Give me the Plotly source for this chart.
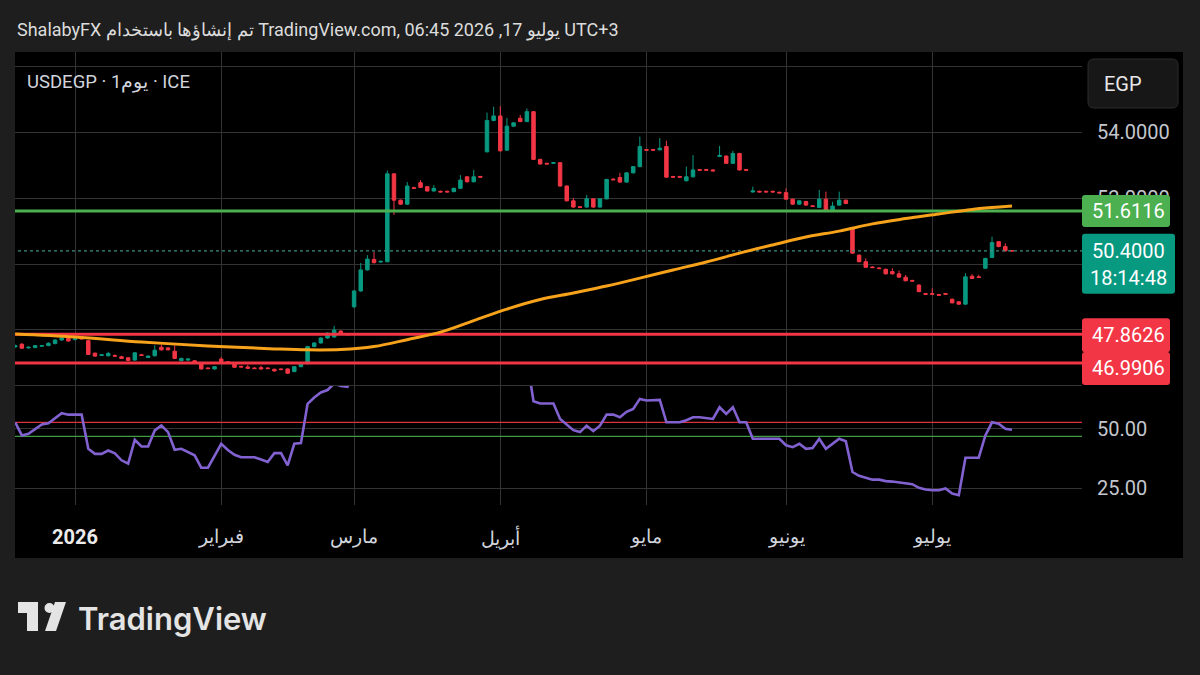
import plotly.graph_objects as go
import pandas as pd

W, H = 1200, 675

# ---------------- data ----------------
dates = [d.strftime("%Y-%m-%d") for d in pd.bdate_range("2025-12-19", "2026-07-17")]

opens = [47.48, 47.56, 47.45, 47.46, 47.50, 47.52, 47.58, 47.69, 47.74,
         47.70, 47.76, 47.67, 47.29, 47.22, 47.21, 47.22, 47.18, 47.15, 47.08,
         47.24, 47.16, 47.21, 47.47, 47.45, 47.35, 47.06, 47.08, 47.06, 46.98,
         46.84, 46.81, 47.11, 47.03, 46.98, 46.89, 46.87, 46.84, 46.85, 46.84,
         46.80, 46.81, 46.81, 46.73, 46.88, 46.97, 47.49, 47.60, 47.75, 47.78,
         47.96, 47.87, 48.70, 49.18, 49.82, 50.14, 50.06, 50.07, 52.74, 51.94,
         51.82, 52.32, 52.47, 52.35, 52.22, 52.21, 52.21, 52.20, 52.30, 52.65,
         52.50, 52.66, 53.41, 54.36, 54.50, 53.46, 54.19, 54.43, 54.33, 54.63,
         53.18, 53.06, 53.06, 53.08, 52.37, 51.92, 51.74, 51.73, 51.98, 51.73,
         51.98, 52.58, 52.63, 52.49, 52.77, 52.96, 53.48, 53.48, 53.47, 53.57,
         52.66, 52.66, 52.53, 52.65, 52.87, 52.87, 52.86, 53.27, 53.28, 53.06,
         53.36, 52.87, 52.19, 52.21, 52.21, 52.21, 52.18, 52.17, 51.97, 51.82,
         51.90, 51.77, 51.72, 51.97, 51.64, 51.79, 51.94, 51.08, 50.27, 50.07,
         49.91, 49.88, 49.84, 49.77, 49.70, 49.60, 49.50, 49.36, 49.10, 49.10,
         49.07, 49.10, 48.93, 48.85, 48.78, 49.63, 49.61, 49.87, 50.20, 50.68,
         50.53, 50.40]
highs = [47.55, 47.60, 47.49, 47.54, 47.54, 47.62, 47.71, 47.82, 47.78,
         47.76, 47.79, 47.70, 47.31, 47.26, 47.33, 47.25, 47.21, 47.17, 47.32,
         47.27, 47.22, 47.53, 47.55, 47.48, 47.53, 47.15, 47.13, 47.08, 47.00,
         46.86, 46.90, 47.17, 47.05, 47.00, 46.91, 46.93, 46.86, 46.91, 46.86,
         46.82, 46.83, 46.83, 46.90, 47.00, 47.51, 47.62, 47.77, 47.92, 48.12,
         47.99, 47.89, 49.20, 50.03, 50.27, 50.37, 50.10, 52.84, 52.76, 51.96,
         52.49, 52.35, 52.55, 52.37, 52.40, 52.23, 52.23, 52.32, 52.70, 52.67,
         52.86, 52.68, 54.60, 54.78, 54.80, 54.44, 54.31, 54.53, 54.73, 54.65,
         53.20, 53.08, 53.10, 53.10, 52.39, 52.01, 51.76, 52.10, 52.00, 52.00,
         52.59, 52.60, 52.77, 52.79, 52.98, 53.87, 53.50, 53.50, 53.83, 53.75,
         52.68, 52.68, 52.96, 53.31, 52.89, 52.89, 52.88, 53.59, 53.30, 53.44,
         53.38, 52.89, 52.35, 52.23, 52.23, 52.23, 52.20, 52.30, 51.99, 51.94,
         51.92, 51.79, 52.25, 52.20, 51.89, 52.20, 51.96, 51.10, 50.29, 50.17,
         49.93, 49.90, 49.86, 49.87, 49.80, 49.67, 49.52, 49.38, 49.12, 49.26,
         49.09, 49.12, 48.95, 48.87, 49.72, 49.69, 49.67, 50.19, 50.83, 50.70,
         50.63, 50.42]
lows = [47.45, 47.42, 47.43, 47.44, 47.48, 47.50, 47.56, 47.67, 47.64,
        47.68, 47.70, 47.24, 47.18, 47.20, 47.19, 47.19, 47.11, 47.04, 47.06,
        47.21, 47.14, 47.19, 47.37, 47.37, 47.11, 47.04, 47.06, 46.99, 46.79,
        46.81, 46.79, 47.01, 46.96, 46.84, 46.86, 46.81, 46.81, 46.79, 46.81,
        46.73, 46.78, 46.66, 46.71, 46.86, 46.95, 47.47, 47.58, 47.73, 47.76,
        47.85, 47.84, 48.66, 49.16, 49.80, 50.02, 50.04, 50.05, 51.49, 51.80,
        51.80, 52.28, 52.31, 52.20, 52.20, 52.18, 52.18, 52.18, 52.28, 52.48,
        52.48, 52.63, 53.39, 54.34, 53.42, 53.44, 54.17, 54.31, 54.31, 53.16,
        53.02, 53.03, 53.04, 52.35, 51.90, 51.71, 51.71, 51.71, 51.71, 51.71,
        51.96, 52.55, 52.47, 52.47, 52.75, 52.94, 53.45, 53.45, 53.45, 52.62,
        52.63, 52.63, 52.51, 52.63, 52.84, 52.84, 52.82, 53.25, 53.04, 53.04,
        52.84, 52.84, 52.17, 52.18, 52.18, 52.18, 52.15, 51.95, 51.80, 51.80,
        51.77, 51.74, 51.70, 51.62, 51.62, 51.77, 51.82, 50.31, 50.05, 49.88,
        49.88, 49.85, 49.68, 49.68, 49.58, 49.47, 49.47, 49.14, 49.07, 49.07,
        49.04, 49.07, 48.80, 48.76, 48.76, 49.54, 49.58, 49.85, 50.18, 50.51,
        50.38, 50.38]
closes = [47.52, 47.44, 47.47, 47.52, 47.52, 47.59, 47.69, 47.76, 47.66,
          47.73, 47.72, 47.25, 47.20, 47.24, 47.28, 47.20, 47.13, 47.07, 47.30,
          47.22, 47.20, 47.38, 47.39, 47.39, 47.13, 47.13, 47.11, 47.01, 46.81,
          46.82, 46.88, 47.03, 46.98, 46.86, 46.87, 46.83, 46.82, 46.81, 46.82,
          46.75, 46.79, 46.68, 46.88, 46.98, 47.49, 47.60, 47.75, 47.90, 47.99,
          47.87, 47.85, 49.18, 49.82, 50.15, 50.04, 50.08, 52.74, 51.94, 51.82,
          52.37, 52.30, 52.33, 52.22, 52.30, 52.19, 52.19, 52.30, 52.55, 52.50,
          52.65, 52.64, 54.36, 54.50, 53.44, 54.19, 54.29, 54.33, 54.63, 53.18,
          53.04, 53.04, 53.08, 52.37, 51.92, 51.73, 51.72, 51.98, 51.73, 51.98,
          52.57, 52.56, 52.49, 52.77, 52.96, 53.57, 53.46, 53.46, 53.52, 52.64,
          52.64, 52.64, 52.65, 52.86, 52.85, 52.85, 52.83, 53.30, 53.06, 53.36,
          52.86, 52.85, 52.22, 52.19, 52.19, 52.19, 52.16, 51.97, 51.82, 51.92,
          51.79, 51.75, 51.97, 51.64, 51.76, 51.94, 51.84, 50.33, 50.07, 49.90,
          49.89, 49.86, 49.70, 49.70, 49.60, 49.49, 49.48, 49.16, 49.08, 49.08,
          49.05, 49.08, 48.82, 48.78, 49.61, 49.56, 49.59, 50.17, 50.65, 50.53,
          50.40, 50.40]

rsi = [52.6, 47.1, 47.8, 49.9, 51.7, 52.2, 54.4, 56.4, 55.8,
       55.8, 55.8, 41.5, 39.4, 39.4, 40.8, 39.6, 36.7, 35.3, 45.3,
       42.5, 42.5, 49.2, 51.3, 48.5, 41.1, 41.5, 40.2, 38.8, 33.6,
       33.6, 38.6, 43.6, 41.0, 39.0, 38.0, 38.0, 38.0, 37.0, 36.0,
       39.7, 39.7, 34.6, 43.6, 43.9, 60.3, 63.0, 65.1, 66.1, 68.8,
       67.8, 67.4, 75.0, 80.0, 82.0, 80.0, 80.0, 88.0, 81.0, 79.0,
       81.0, 80.0, 80.0, 78.0, 78.0, 77.0, 77.0, 78.0, 80.0, 78.0,
       79.0, 79.0, 85.0, 86.0, 73.0, 78.0, 78.0, 77.0, 79.0, 61.4,
       60.5, 60.5, 60.5, 54.0, 51.5, 49.3, 48.5, 51.2, 48.9, 51.2,
       55.8, 55.8, 54.7, 57.0, 58.2, 62.4, 61.7, 61.8, 62.0, 52.6,
       52.6, 52.6, 53.5, 54.7, 54.7, 54.5, 54.0, 58.9, 56.1, 58.9,
       52.6, 52.6, 45.7, 45.7, 45.7, 45.7, 45.7, 43.0, 42.2, 43.6,
       41.5, 41.8, 45.7, 41.5, 43.5, 45.7, 44.7, 31.8, 30.2, 29.3,
       28.6, 28.6, 28.0, 27.8, 27.4, 26.8, 26.7, 25.2, 24.5, 24.2,
       24.2, 24.9, 22.8, 22.1, 37.8, 37.8, 37.8, 47.1, 52.6, 52.0,
       49.9, 49.5]

ma_dates = ["2025-12-19", "2026-01-01", "2026-01-15", "2026-01-29", "2026-02-12",
            "2026-02-19", "2026-02-26", "2026-03-05", "2026-03-12", "2026-03-19",
            "2026-03-26", "2026-04-02", "2026-04-09", "2026-04-16", "2026-04-23",
            "2026-04-30", "2026-05-07", "2026-05-14", "2026-05-21", "2026-05-28",
            "2026-06-04", "2026-06-11", "2026-06-18", "2026-06-25", "2026-07-02",
            "2026-07-09", "2026-07-17"]
ma_values = [47.87, 47.78, 47.63, 47.51, 47.42, 47.39, 47.40, 47.49, 47.70, 47.93,
             48.28, 48.63, 48.92, 49.12, 49.33, 49.57, 49.82, 50.06, 50.33, 50.58,
             50.82, 51.00, 51.22, 51.38, 51.52, 51.66, 51.76]

green_level = 51.6116
red_levels = [47.8626, 46.9906]
last_price = 50.40
countdown = "18:14:48"
rsi_upper, rsi_lower = 52.6, 46.7

month_dates = ["2026-01-01", "2026-02-02", "2026-03-02", "2026-04-01",
               "2026-05-01", "2026-06-01", "2026-07-01"]
month_labels = ["2026", "فبراير", "مارس", "أبريل", "مايو", "يونيو", "يوليو"]
price_ticks = [48, 50, 52, 54, 56]
price_ticks_hidden = [48, 50, 56]   # fully covered by the label boxes in the reference
rsi_ticks = [25, 50]

# ---------------- style ----------------
TEAL = "#089981"
RED = "#f23645"
GREEN = "#4caf50"
ORANGE = "#f7a21b"
PURPLE = "#8262d0"
GRID = "#333333"
TXT = "#d1d4dc"
FONT = "Roboto, sans-serif"

xk = list(range(len(dates)))
month_pos = [dates.index(d) for d in month_dates]
ma_pos = [dates.index(d) for d in ma_dates]

# layout geometry (pixels)
PL, PR = 15, 1082
PT, PSEP, PB = 52, 385.5, 505
P_RANGE = [46.307, 56.444]
R_RANGE = [18.0, 68.0]
X_RANGE = [-0.03, 160.54]

def px(x):
    return x / W

def py(y):
    return 1 - y / H

PXU = (PSEP - PT) / (P_RANGE[1] - P_RANGE[0])  # pixels per price unit

fig = go.Figure()

fig.add_trace(go.Candlestick(
    x=xk, open=opens, high=highs, low=lows, close=closes,
    increasing=dict(line=dict(color=TEAL, width=1), fillcolor=TEAL),
    decreasing=dict(line=dict(color=RED, width=1), fillcolor=RED),
    whiskerwidth=0, hoverinfo="skip", showlegend=False, xaxis="x", yaxis="y"))

fig.add_trace(go.Scatter(x=[-5, 200], y=[last_price, last_price], mode="lines",
                         line=dict(color="#3f8f82", width=1.3, dash="dot"),
                         hoverinfo="skip", xaxis="x", yaxis="y"))
for lv, col in [(green_level, GREEN)] + [(r, RED) for r in red_levels]:
    fig.add_trace(go.Scatter(x=[-5, 200], y=[lv, lv], mode="lines",
                             line=dict(color=col, width=3),
                             hoverinfo="skip", xaxis="x", yaxis="y"))

fig.add_trace(go.Scatter(x=ma_pos, y=ma_values, mode="lines",
                         line=dict(color=ORANGE, width=3, shape="spline", smoothing=1.0),
                         hoverinfo="skip", xaxis="x", yaxis="y"))

fig.add_trace(go.Scatter(x=[-5, 200], y=[rsi_upper, rsi_upper], mode="lines",
                         line=dict(color="#d8323f", width=1.2),
                         hoverinfo="skip", xaxis="x2", yaxis="y2"))
fig.add_trace(go.Scatter(x=[-5, 200], y=[rsi_lower, rsi_lower], mode="lines",
                         line=dict(color="#3f9c43", width=1.2),
                         hoverinfo="skip", xaxis="x2", yaxis="y2"))
fig.add_trace(go.Scatter(x=xk, y=rsi, mode="lines",
                         line=dict(color=PURPLE, width=2.6),
                         hoverinfo="skip", xaxis="x2", yaxis="y2"))

axis_common = dict(showline=False, zeroline=False, ticks="", fixedrange=True)
tickfont = dict(family=FONT, size=20, color="#c3c6ce")

fig.update_layout(
    width=W, height=H, margin=dict(l=0, r=0, t=0, b=0),
    paper_bgcolor="#1e1e1e", plot_bgcolor="#000000",
    showlegend=False, boxgap=0.25,
    xaxis=dict(domain=[px(PL), px(PR)], range=X_RANGE, anchor="y",
               tickvals=month_pos, showticklabels=False, showgrid=True,
               gridcolor=GRID, gridwidth=1, rangeslider=dict(visible=False),
               **axis_common),
    xaxis2=dict(domain=[px(PL), px(PR)], range=X_RANGE, anchor="y2", matches="x",
                tickvals=month_pos, showticklabels=False, showgrid=True,
                gridcolor=GRID, gridwidth=1, **axis_common),
    yaxis=dict(domain=[py(PSEP), py(PT)], range=P_RANGE, anchor="x", side="right",
               tickvals=price_ticks,
               ticktext=["" if t in price_ticks_hidden else f"{t:.4f}" for t in price_ticks],
               tickfont=tickfont, ticklabelstandoff=14, showgrid=True,
               gridcolor=GRID, gridwidth=1, **axis_common),
    yaxis2=dict(domain=[py(PB), py(PSEP)], range=R_RANGE, anchor="x2", side="right",
                tickvals=rsi_ticks, ticktext=[f"{t:.2f}" for t in rsi_ticks],
                tickfont=tickfont, ticklabelstandoff=14, showgrid=True,
                gridcolor=GRID, gridwidth=1, **axis_common),
)

shapes = []
shapes.append(dict(type="rect", xref="paper", yref="paper", layer="below",
                   x0=px(15), x1=px(1183), y0=py(558), y1=py(52),
                   fillcolor="#000000", line=dict(width=0)))
shapes.append(dict(type="line", xref="paper", yref="paper",
                   x0=px(PL), x1=px(PR), y0=py(PSEP), y1=py(PSEP),
                   line=dict(color=GRID, width=1.2)))

def rrect_path(x0, x1, yc, up_px, down_px, r=3):
    ya = yc + up_px / PXU
    yb = yc - down_px / PXU
    rx = r / W
    ry = r / PXU
    X0, X1 = px(x0), px(x1)
    return (f"M{X0+rx},{ya} L{X1-rx},{ya} Q{X1},{ya} {X1},{ya-ry} "
            f"L{X1},{yb+ry} Q{X1},{yb} {X1-rx},{yb} L{X0+rx},{yb} "
            f"Q{X0},{yb} {X0},{yb+ry} L{X0},{ya-ry} Q{X0},{ya} {X0+rx},{ya} Z")

box_specs = [
    (green_level, GREEN, 16, 16, 1170),
    (last_price, TEAL, 17, 43, 1175),
    (red_levels[0], RED, 16, 18, 1170),
    (red_levels[1], RED, 11, 22, 1170),
]
for yc, col, up, dn, xr in box_specs:
    shapes.append(dict(type="path", xref="paper", yref="y", layer="above",
                       path=rrect_path(1082, xr, yc, up, dn),
                       fillcolor=col, line=dict(width=0)))

def rr_paper(x0, y0, x1, y1, r=6):
    def P(x, y):
        return f"{px(x):.5f},{py(y):.5f}"
    return (f"M{P(x0+r,y0)} L{P(x1-r,y0)} Q{P(x1,y0)} {P(x1,y0+r)} "
            f"L{P(x1,y1-r)} Q{P(x1,y1)} {P(x1-r,y1)} L{P(x0+r,y1)} "
            f"Q{P(x0,y1)} {P(x0,y1-r)} L{P(x0,y0+r)} Q{P(x0,y0)} {P(x0+r,y0)} Z")

shapes.append(dict(type="path", xref="paper", yref="paper", layer="above",
                   path=rr_paper(1088, 59, 1178, 108, 6),
                   fillcolor="#171717", line=dict(color="#2c2c2c", width=1)))

LOGO = "#e4e4e4"
shapes.append(dict(type="rect", xref="paper", yref="paper", x0=px(18), x1=px(38),
                   y0=py(613), y1=py(602), fillcolor=LOGO, line=dict(width=0)))
shapes.append(dict(type="rect", xref="paper", yref="paper", x0=px(27), x1=px(38),
                   y0=py(631), y1=py(602), fillcolor=LOGO, line=dict(width=0)))
shapes.append(dict(type="circle", xref="paper", yref="paper", x0=px(44.5), x1=px(54.5),
                   y0=py(613), y1=py(603), fillcolor=LOGO, line=dict(width=0)))
shapes.append(dict(type="path", xref="paper", yref="paper",
                   path=f"M{px(55)},{py(602)} L{px(66)},{py(602)} L{px(56)},{py(631)} L{px(45)},{py(631)} Z",
                   fillcolor=LOGO, line=dict(width=0)))
fig.update_layout(shapes=shapes)

ann = []
ann.append(dict(xref="paper", yref="paper", x=px(15), y=py(30), xanchor="left",
                yanchor="middle", showarrow=False,
                text="ShalabyFX تم إنشاؤها باستخدام TradingView.com, 06:45 2026 ,17 يوليو UTC+3",
                font=dict(family=FONT, size=18, color="#dcdcdc")))
ann.append(dict(xref="paper", yref="paper", x=px(25), y=py(82), xanchor="left",
                yanchor="middle", showarrow=False, text="USDEGP · 1يوم · ICE",
                font=dict(family=FONT, size=18.5, color=TXT)))
for pos, lab in zip(month_pos, month_labels):
    bold = lab.isdigit()
    ann.append(dict(xref="x", yref="paper", x=pos, y=py(537), xanchor="center",
                    yanchor="middle", showarrow=False,
                    text=f"<b>{lab}</b>" if bold else lab,
                    font=dict(family=FONT, size=20 if bold else 18.5,
                              color="#ececec" if bold else TXT)))
ann.append(dict(xref="paper", yref="paper", x=px(1102), y=py(84), xanchor="left",
                yanchor="middle", showarrow=False, text="EGP",
                font=dict(family=FONT, size=20, color="#e8e8e8")))
for yc, txt, dy in [(green_level, f"{green_level:.4f}", 0),
                    (last_price, f"{last_price:.4f}", 0),
                    (last_price, countdown, 27),
                    (red_levels[0], f"{red_levels[0]:.4f}", 1),
                    (red_levels[1], f"{red_levels[1]:.4f}", 5)]:
    ann.append(dict(xref="paper", yref="y", x=px(1128), y=yc - dy / PXU,
                    xanchor="center", yanchor="middle", showarrow=False, text=txt,
                    font=dict(family=FONT, size=20, color="#ffffff")))
ann.append(dict(xref="paper", yref="paper", x=px(76), y=py(618), xanchor="left",
                yanchor="middle", showarrow=False, text="TradingView",
                font=dict(family="Inter, Roboto, sans-serif", size=31, color=LOGO,
                          weight=600)))
fig.update_layout(annotations=ann)

fig.write_html("out.html", config={"displayModeBar": False},
               post_script="document.body.style.margin='0px';document.body.style.padding='0px';document.body.style.background='#1e1e1e';")
